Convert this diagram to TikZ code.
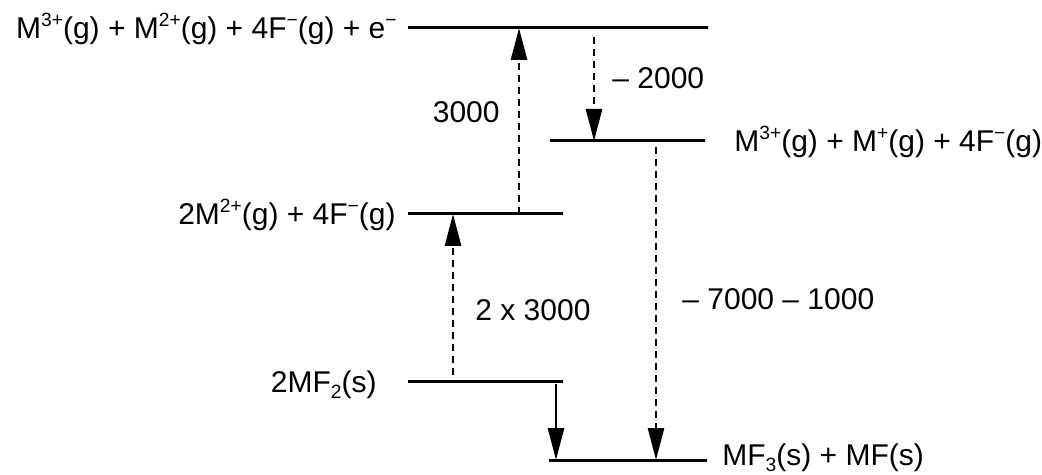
\documentclass[tikz,border=0pt]{standalone}
\usepackage{fontspec}
\setmainfont{Liberation Sans}
\usetikzlibrary{arrows.meta}
\newcommand\sps[1]{\raisebox{0.42em}{\fontsize{9.6}{10}\selectfont #1}}
\newcommand\sbs[1]{\raisebox{-0.22em}{\fontsize{9.6}{10}\selectfont #1}}
\begin{document}
\begin{tikzpicture}[x=0.5pt,y=-0.5pt,
  level/.style={draw=black,line width=1.5pt,minimum height=0pt,inner sep=0pt,outer sep=0pt},
  lbl/.style={inner sep=0pt,font=\fontsize{15}{18}\selectfont},
  dotarrow/.style={line width=1.4pt,dash pattern=on 3.5pt off 2.5pt,-{Triangle[length=16pt,width=8pt]}},
  solidarrow/.style={line width=1.4pt,-{Triangle[length=16pt,width=8pt]}}]
\useasboundingbox (0,0) rectangle (1042,475);
% levels
\node[level,minimum width=150pt] (L1) at (558,28) {};
\node[level,minimum width=77.5pt] (L2) at (627.5,141) {};
\node[level,minimum width=77.5pt] (L3) at (485.5,214) {};
\node[level,minimum width=77.5pt] (L4) at (485.5,381) {};
\node[level,minimum width=79pt] (L5) at (628,460) {};
% level labels
\node[lbl,anchor=base east] (t1) at (397,39) {M\sps{3+}(g) + M\sps{2+}(g) + 4F\sps{−}(g) + e\sps{−}};
\node[lbl,anchor=base west] (t2) at (734,152) {M\sps{3+}(g) + M\sps{+}(g) + 4F\sps{−}(g)};
\node[lbl,anchor=base east] (t3) at (396,225) {2M\sps{2+}(g) + 4F\sps{−}(g)};
\node[lbl,anchor=base east] (t4) at (377,392) {2MF\sbs{2}(s)};
\node[lbl,anchor=base west] (t5) at (722,465) {MF\sbs{3}(s) + MF(s)};
% arrow columns
\coordinate (xa) at (519,0);
\coordinate (xb) at (594,0);
\coordinate (xc) at (453,0);
\coordinate (xd) at (556,0);
\coordinate (xe) at (656,0);
\draw[dotarrow] (xa |- L3.north) -- (xa |- L1.south);
\draw[dotarrow] ([yshift=-4.5pt]xb |- L1.south) -- (xb |- L2.north);
\draw[dotarrow] ([yshift=3pt]xc |- L4.north) -- (xc |- L3.south);
\draw[solidarrow] ([yshift=-1.5pt]xd |- L4.south) -- (xd |- L5.north);
\draw[dotarrow] ([yshift=-3pt]xe |- L2.south) -- (xe |- L5.north);
% arrow labels
\node[lbl,anchor=base east] (v1) at (500,123) {3000};
\node[lbl,anchor=base west] (v2) at (612,89) {– 2000};
\node[lbl,anchor=base west] (v3) at (475,321) {2 x 3000};
\node[lbl,anchor=base west] (v4) at (682,309) {– 7000 – 1000};
\end{tikzpicture}
\end{document}
